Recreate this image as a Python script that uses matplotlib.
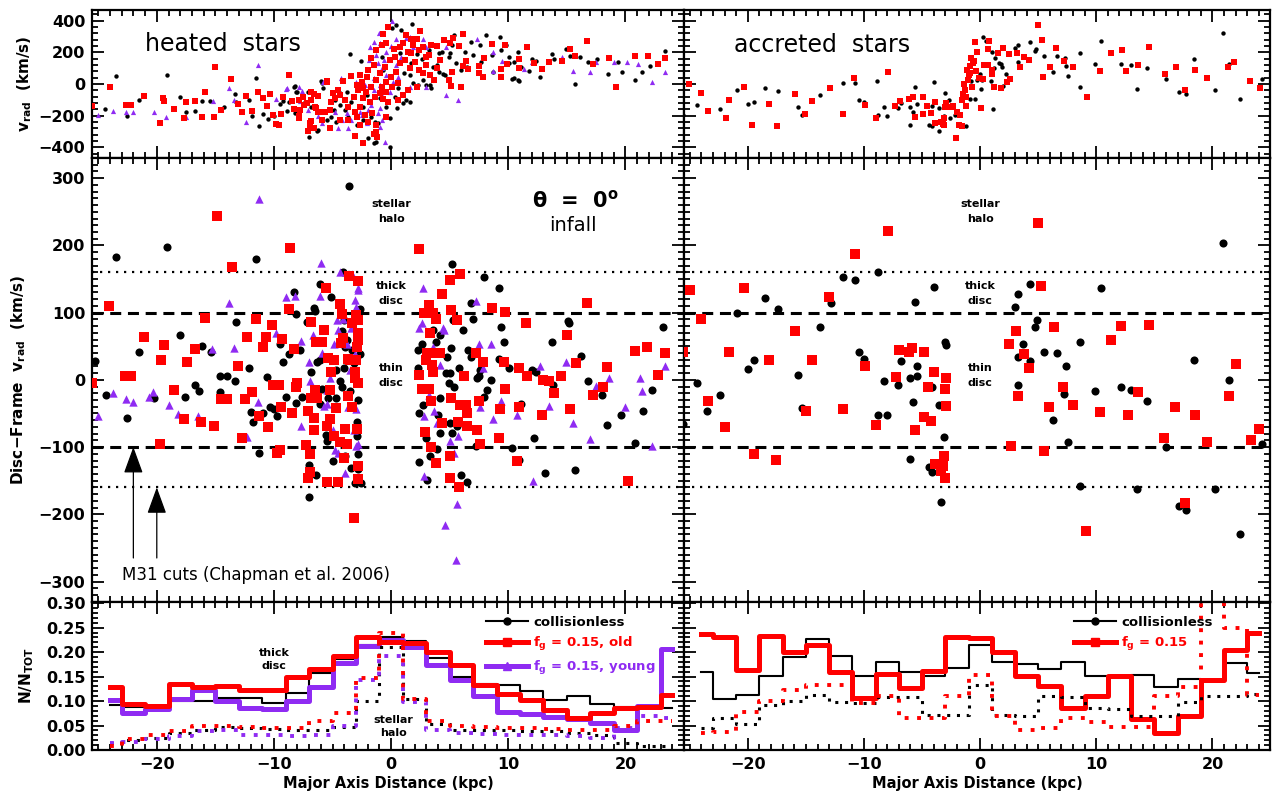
import matplotlib
matplotlib.use('Agg')
import matplotlib.pyplot as plt
from matplotlib.ticker import MultipleLocator, FormatStrFormatter
from matplotlib.lines import Line2D
import numpy as np

plt.rcParams['font.family'] = 'DejaVu Sans'
plt.rcParams['font.weight'] = 'bold'
plt.rcParams['axes.labelweight'] = 'bold'
plt.rcParams['mathtext.default'] = 'regular'

RED = '#ff0000'
PURPLE = '#8f2bf2'

# ---------------- top panels: v_rad vs major axis distance (kpc, km/s)
heated_top_coll = [
    (-24.4, -158), (-23.5, 53), (-22.5, -200), (-21.5, -101), (-19.1, 59), (-18.0, -84), (-17.5, -179),
    (-16.7, -168), (-16.1, -105), (-15.5, -105), (-14.3, -147), (-13.3, -63), (-13.2, -116), (-12.1, -101),
    (-11.9, -200), (-11.5, 38), (-11.3, -263), (-10.9, -189), (-10.5, -221), (-10.0, -200), (-9.5, -126),
    (-9.2, -105), (-8.9, -168), (-8.3, -17), (-8.0, -53), (-7.1, -53), (-7.0, -337), (-6.8, -147),
    (-6.3, -295), (-6.0, 21),
    (-8.2, -12), (-8.1, -48), (-8.7, -111), (-8.2, -185), (-6.2, -290), (-5.9, 5), (-5.8, -27),
    (-5.5, -227), (-4.8, -101), (-4.4, -59), (-4.4, -132), (-3.95, -164), (-3.8, -48), (-3.7, -206),
    (-3.5, 190), (-3.4, -111), (-3.2, -174), (-2.9, -258), (-2.6, 146), (-2.4, -143), (-2.05, -69),
    (-1.96, -343), (-1.7, -206), (-1.5, -374), (-1.25, -364), (-1.1, -248), (-0.97, -90), (-0.82, 173),
    (-0.68, 89), (-0.1, -399), (0.1, 352), (0.45, 373), (0.5, -153), (0.74, 194), (0.88, 341),
    (1.0, -122), (1.3, -101), (1.6, -111), (1.76, 379), (1.9, 5), (2.2, 190), (2.6, 156), (2.7, 26),
    (3.0, -6), (3.2, 215), (3.6, 105), (3.9, 120), (4.1, 78), (4.3, 204), (4.4, 63), (4.6, 57),
    (4.9, 173), (5.0, 194), (5.2, 247), (5.4, 310), (5.5, 131), (6.0, 89), (6.3, 204), (6.5, 110),
    (6.8, 268), (7.0, 183), (7.6, 247), (7.7, 141), (8.1, 310), (8.6, 183), (8.7, 78), (9.3, 295),
    (9.4, 215), (9.8, 247), (10.1, 135), (10.5, 36), (10.8, 26), (10.8, 204), (4.1, 194), (3.3, -6),
    (3.4, -27), (1.6, 57), (1.7, 131), (2.3, -6), (1.1, 68), (0.6, -27), (0.3, -80), (-0.4, -143),
    (-0.1, -216), (-1.4, -237), (-2.4, -227), (-4.7, -237), (-5.1, -206), (-4.9, -164), (-6.6, -143),
    (-7.4, -122),
    (10.1, 168), (10.5, 137), (10.3, 32), (10.9, 21), (11.1, 105), (11.8, 84), (12.0, 158), (12.4, 147),
    (12.7, 42), (13.7, 189), (13.9, 158), (14.9, 221), (15.3, 179), (15.7, 0), (16.1, 173), (16.8, 137),
    (17.6, 158), (18.5, 63), (19.4, 141), (19.7, 74), (20.8, 25), (21.4, 74), (22.1, 116), (23.4, 210),
]
heated_top_old = [
    (-25.5, -137), (-24.0, -17), (-22.6, -131), (-22.2, -131), (-21.1, -74), (-19.7, -246), (-19.5, -91),
    (-19.4, -105), (-18.5, -158), (-17.7, -215), (-17.5, -116), (-16.7, -105), (-16.1, -211), (-15.9, -48),
    (-15.1, -211), (-15.0, 109), (-14.5, -164), (-13.7, 32), (-13.1, -126), (-12.7, -175), (-12.4, -74),
    (-11.9, -168), (-11.4, -48), (-10.9, -91), (-10.6, -137), (-10.3, -63), (-10.1, -196), (-9.8, -253),
    (-9.6, -257), (-9.4, -189), (-9.2, -84), (-8.7, 59), (-8.5, -105), (-8.3, -158), (-7.9, -200),
    (-7.9, -101), (-7.4, -131), (-7.1, -295), (-6.9, -274), (-6.8, -232), (-6.6, -63), (-6.4, -152),
    (-6.1, -179), (-5.9, -227), (-5.5, 15),
    (-5.5, 20), (-3.4, 51), (-2.7, 57), (-0.25, 358), (-0.7, 316), (2.5, 335), (2.2, 282), (-0.45, 257),
    (0.25, 219), (1.0, 257), (1.45, 204), (1.9, 247), (2.7, 236), (3.4, 247), (3.9, 240), (4.5, 278),
    (5.0, 257), (5.3, 293), (6.1, 316), (5.8, 240), (3.2, 183), (4.15, 152), (3.9, 99), (3.0, 120),
    (3.3, 57), (3.7, 26), (2.2, -22), (1.45, -37), (5.2, 78), (4.9, 26), (5.1, -12), (6.0, -20),
    (6.1, 114), (6.6, 95), (6.4, 147), (7.5, 114), (7.5, 68), (7.8, 43), (7.9, 166), (8.6, 250),
    (9.4, 93), (9.4, 47), (9.7, 247), (9.9, 125), (10.9, 156), (10.9, 99), (-1.25, 215), (-1.7, 162),
    (-2.05, 47), (-2.5, 15), (-2.95, -6), (-2.8, -37), (-3.2, -80), (-2.15, -48), (-1.7, -16),
    (-1.25, 26), (-0.97, 68), (-0.54, 110), (-0.1, 152), (0.3, 173), (0.74, 131), (1.2, 152),
    (1.65, 99), (2.0, 141), (0.45, 78), (0.03, 47), (-0.4, 15), (-0.8, -20), (0.1, -16), (0.6, 5),
    (1.0, -69), (0.6, -101), (-0.25, -111), (-0.97, -59), (-1.4, -80), (-1.8, -111), (-2.4, -90),
    (-2.7, -143), (-3.1, -174), (-3.7, -143), (-3.95, -101), (-4.4, -69), (-4.8, -90), (-5.1, -111),
    (-5.2, -164), (-5.65, -174), (-6.2, -174), (-6.5, -143), (-6.8, -101), (-7.2, -122), (-6.9, -248),
    (-6.95, -280), (-7.8, -164), (-7.9, -216), (-6.6, -280), (-5.2, -280), (-4.4, -227), (-3.7, -227),
    (-2.95, -206), (-2.2, -195), (-1.96, -237), (-2.4, -374), (-2.7, -258), (-1.25, -301), (-1.5, -316),
    (-1.2, -332), (-1.25, -258), (-0.4, -206), (-1.6, -185), (-3.1, -328), (-4.1, 20), (-4.5, -37),
    (-5.0, -55), (-6.8, -48), (-6.2, -75), (-7.5, -80), (-0.68, -97), (-0.4, -48), (-2.4, -27),
    (-1.96, 89), (-1.5, 120), (-0.82, 246), (1.3, 310), (1.7, 282), (2.4, 215), (3.0, 173), (2.7, 68),
    (2.4, 89), (1.7, 194), (0.74, 232),
    (11.6, 232), (12.2, 130), (12.9, 95), (13.5, 137), (14.6, 147), (15.7, 179), (15.3, 221),
    (16.7, 274), (17.2, 126), (18.6, 164), (19.2, -17), (20.8, 179), (21.9, 179), (22.8, 126),
    (23.4, 164),
]
heated_top_young = [
    (-25.0, -196), (-23.7, -168), (-22.6, -179), (-22.0, -179), (-20.2, -179), (-19.2, -206),
    (-17.5, -211), (-15.2, -105), (-13.8, -25), (-13.4, -101), (-12.4, -242), (-11.4, 122), (-9.8, -95),
    (-9.0, -32), (-7.8, -105), (-7.6, -42), (-6.8, -95), (-5.9, -248),
    (-8.9, -27), (-7.9, -20), (-5.8, 15), (-4.3, 36), (-3.0, 15), (-2.2, -6), (-1.8, 236), (-1.0, 325),
    (-0.97, 257), (-1.25, 183), (-1.1, 131), (-0.8, 99), (-0.6, 152), (-0.4, 204), (0.06, 398),
    (0.4, 284), (1.25, 288), (1.65, 299), (1.9, 236), (2.7, 282), (3.0, 236), (4.7, 236), (7.3, 282),
    (8.7, 204), (8.7, 84), (4.7, -69), (5.7, -101), (3.0, -16), (1.6, -16), (-1.5, -37), (-1.7, -132),
    (-0.97, -153), (-1.1, -185), (-0.8, -227), (-0.97, -269), (-0.54, -364), (-2.1, -248), (-2.5, -195),
    (-2.7, -174), (-1.8, -111), (-1.96, -164), (-3.4, -227), (-3.8, -185), (-4.2, -227), (-4.8, -174),
    (-4.5, -280), (-3.7, -280), (-6.2, -202), (-7.1, -164), (-0.68, -80), (-0.1, -48), (-0.97, -6),
    (0.17, 15), (0.6, 47), (-0.4, 57), (-1.5, 36), (0.45, 120), (0.88, 173), (0.03, 240), (-1.5, 267),
    (-1.9, 152),
    (9.5, 147), (11.3, 95), (12.0, 137), (14.6, 168), (15.5, 84), (17.0, 74), (17.5, 137), (19.0, 137),
    (20.1, 137), (21.1, 126), (22.3, 11), (23.4, 74),
]
accreted_top_coll = [
    (-25.6, -193), (-24.4, -132), (-22.4, -156), (-20.9, -41), (-20.0, -126), (-19.5, -112), (-18.5, -24),
    (-17.4, -45), (-15.7, -146), (-15.3, -193), (-13.8, -71), (-11.8, 8), (-10.8, 4), (-10.4, -102),
    (-10.0, -114), (-8.9, 16), (-8.8, -197), (-8.3, -148), (-8.0, -199), (-7.1, -152), (-6.8, -122),
    (-6.0, -260), (-6.0, -142), (-5.8, -179), (-5.6, -20), (-5.4, -126), (-4.4, -258), (-4.1, -264),
    (-4.0, 12), (-4.1, -138), (-3.5, -294), (-3.5, -152), (-3.1, -199), (-3.0, -57), (-2.7, -102),
    (-2.6, -217), (-2.2, -193), (-1.6, -91), (-1.2, -264), (-0.9, -97), (-0.4, -97), (-0.8, 20),
    (-0.26, 24), (0.0, 61), (0.07, -30), (0.2, 24), (0.26, 294), (0.5, 274), (0.9, 20), (1.05, 199),
    (1.1, -156), (1.2, 101), (1.3, 166), (1.6, 132), (1.8, 128), (1.9, 106), (2.2, 61), (2.0, -10),
    (2.4, 26), (3.0, 229), (3.3, 244), (3.3, 136), (3.7, 179), (4.3, 268), (4.7, 207), (4.8, 223),
    (5.5, 179), (6.3, 77), (6.6, 179), (7.3, 162), (7.4, 112), (7.6, 51), (8.6, 197), (8.6, -20),
    (9.9, 126), (10.4, 274), (12.1, 126), (13.0, 122), (13.5, -30), (14.4, 101), (16.0, 30),
    (17.1, -51), (17.7, -65), (18.4, 158), (20.2, -37), (20.9, 321), (21.4, 126), (22.4, -97),
    (24.3, 30),
]
accreted_top_gas = [
    (-25.1, 0), (-24.0, -55), (-23.4, -173), (-21.9, -213), (-21.6, -102), (-20.3, -16), (-19.6, -260),
    (-18.2, -128), (-17.5, -268), (-15.9, -65), (-15.1, -187), (-14.5, -108), (-12.9, -24), (-11.8, -187),
    (-10.9, 37), (-9.9, -132), (-9.0, -217), (-7.9, 75), (-7.3, -138), (-6.9, -106), (-6.1, -95),
    (-5.8, -85), (-5.6, -207), (-4.9, -85), (-4.9, -187), (-4.6, -138), (-4.2, -183), (-3.9, -112),
    (-3.9, -248), (-3.4, -240), (-3.2, -254), (-3.1, -217), (-3.1, -260), (-3.0, -142), (-2.9, -118),
    (-2.7, -146), (-2.5, -142), (-2.3, -138), (-2.1, -341), (-2.0, -177), (-1.8, -260), (-1.7, -193),
    (-1.6, -102), (-1.6, -268), (-1.5, -61), (-1.4, 0), (-1.3, -37), (-1.25, -85), (-1.2, -138),
    (-1.1, 91), (-1.05, 26), (-1.0, 57), (-0.9, 71), (-0.85, 112), (-0.75, 162), (-0.66, -16),
    (-0.6, 132), (-0.5, 146), (-0.43, 268), (-0.33, 85), (-0.26, 199), (-0.1, 41), (0.07, -152),
    (0.23, 30), (0.33, 118), (0.66, 223), (0.7, 122), (0.8, 274), (1.0, 61), (1.05, 91), (1.2, -16),
    (1.5, 193), (1.8, -24), (2.0, 227), (2.3, 14), (2.5, 187), (2.6, 30), (3.2, 197), (3.4, 106),
    (3.8, 173), (4.2, 152), (5.0, 371), (5.3, 280), (5.4, 45), (6.0, 106), (6.5, 227), (7.2, 142),
    (8.0, 106), (9.2, -85), (10.3, 85), (11.3, 197), (12.2, 213), (12.6, 85), (13.6, 122), (14.5, 233),
    (15.9, 61), (16.9, 106), (17.6, -41), (18.5, 91), (19.5, 41), (21.3, 106), (21.9, 136), (23.2, 20),
    (24.1, -24),
]

# ---------------- middle panels: disc-frame v_rad (km/s)
heated_mid_coll = [
    (-25.3, 28), (-24.3, -22), (-23.5, 182), (-22.5, -57), (-21.5, 41), (-20.2, -27), (-19.1, 198),
    (-18.0, 67), (-17.6, -26), (-16.7, -7), (-16.4, -17), (-16.1, 51), (-15.4, 42), (-14.6, 6),
    (-14.0, 6), (-14.6, -18), (-13.3, -1), (-13.2, 86), (-12.1, 17), (-12.0, -48), (-11.8, -63),
    (-11.5, 180), (-11.3, -109), (-10.9, -50), (-10.6, 4), (-10.3, -40), (-10.0, -44), (-9.7, -54),
    (-9.5, 54), (-9.2, 27), (-9.0, -25), (-8.7, 39), (-8.3, 131), (-8.1, 98), (-8.1, -35), (-7.8, 44),
    (-7.6, -25), (-7.2, 86), (-7.0, -174), (-7.0, -126), (-6.8, 11), (-6.6, 107), (-6.5, 102),
    (-6.4, -141), (-6.3, 26), (-6.1, 143), (-6.1, -36), (-6.1, 30), (-5.9, -14), (-5.6, -82),
    (-5.5, -91), (-5.4, -27), (-5.1, 123), (-5.0, -121), (-4.7, -27), (-4.7, 15), (-4.4, -1),
    (-4.2, 72), (-4.2, -10), (-4.0, 18), (-4.0, 89), (-3.9, -114), (-3.9, 49), (-3.8, 59), (-3.6, 289),
    (-3.5, -17), (-3.4, -131), (-3.3, 44), (-3.2, 25), (-3.1, -153), (-2.9, -84), (-2.9, -62),
    (-2.8, -110), (-2.8, -133), (-2.8, -3), (-2.8, -30), (-2.7, 39), (-2.7, 106), (-2.6, -153),
    (-4.1, 160),
    (2.3, 44), (2.3, 17), (2.4, -49), (2.4, -122), (2.6, 54), (2.7, -37), (3.0, -86), (3.1, -149),
    (3.3, -113), (3.6, 74), (3.8, 57), (3.9, -103), (4.0, -52), (4.2, -27), (4.2, -79), (4.2, 67),
    (4.7, 10), (4.8, 34), (4.9, -5), (5.0, -64), (5.0, 10), (5.1, 47), (5.2, -79), (5.2, 173),
    (5.3, 89), (5.4, -10), (5.6, -69), (5.8, 17), (6.0, -142), (6.1, 74), (6.5, -152), (6.6, 44),
    (6.8, 115), (6.8, 34), (7.0, 91), (7.2, -99), (7.3, 2), (7.5, 5), (7.6, 15), (7.9, 153),
    (7.9, -25), (8.2, -15), (8.5, 0), (9.2, 137), (9.2, 31), (9.4, 78), (9.6, 57), (10.1, 17),
    (11.1, -36), (10.3, -102), (10.9, -119), (12.0, 15), (12.2, -86), (12.4, 12), (13.7, 57),
    (13.1, -138), (13.8, -7), (15.1, 88), (15.2, 84), (15.7, -134), (16.2, 36), (16.8, -1), (18.0, -22),
    (18.4, -67), (19.6, -53), (20.8, -94), (21.5, -47), (22.3, -15), (23.2, 79),
]
heated_mid_old = [
    (-25.5, -5), (-24.1, 110), (-22.7, 5), (-22.2, 5), (-21.1, 64), (-19.7, -96), (-19.4, 52),
    (-19.6, 29), (-18.5, -15), (-17.7, -58), (-17.4, 26), (-16.7, 46), (-16.2, -62), (-15.9, 92),
    (-15.1, -69), (-14.9, 244), (-14.5, -29), (-14.0, -29), (-13.6, 168), (-13.1, 20), (-12.7, -86),
    (-12.5, -28), (-12.3, 64), (-11.9, -18), (-11.5, 90), (-11.3, -54), (-10.9, 49), (-10.7, 63),
    (-10.5, -70), (-10.2, 82), (-10.1, -7), (-9.7, -109), (-9.6, -7), (-9.5, -104), (-9.4, -40),
    (-9.3, 61), (-8.7, 106), (-8.6, 196), (-8.5, -49), (-8.3, 46), (-8.1, -10), (-8.0, -4), (-7.3, -97),
    (-7.1, -47), (-7.1, -146), (-6.9, -110), (-6.9, -137), (-6.8, -27), (-6.8, 86), (-6.6, -57),
    (-6.6, -74), (-6.5, -15), (-6.4, 56), (-6.3, -27), (-6.0, 57), (-5.9, 56), (-5.7, 74), (-5.6, 137),
    (-5.5, -69), (-5.5, -152), (-5.4, 32), (-5.2, -58), (-5.2, -15), (-5.1, 11), (-4.9, -83), (-4.9, 29),
    (-4.7, -42), (-4.5, -152), (-4.4, -92), (-4.4, 113), (-4.3, 55), (-4.2, 98), (-4.1, 62),
    (-4.0, -116), (-3.9, -73), (-3.8, -96), (-3.7, 31), (-3.7, -24), (-3.6, 154), (-3.5, 30), (-3.3, 84),
    (-3.3, -40), (-3.2, -205), (-3.1, 2), (-3.1, 12), (-3.0, 96), (-2.9, 49), (-2.9, -73), (-2.8, -128),
    (-2.8, -148), (-2.8, 147), (-2.8, 59), (-2.8, 70), (-2.8, 89), (-2.8, -5), (-3.0, 30),
    (2.4, 194), (2.4, 7), (2.6, -14), (2.8, 99), (2.9, -78), (3.0, 29), (3.1, 40), (3.2, -14), (3.2, 111),
    (3.3, 70), (3.3, 40), (3.4, -32), (3.4, -100), (3.5, 22), (3.6, 99), (3.6, 11), (3.8, 91),
    (3.8, -123), (4.2, 40), (4.3, 128), (4.3, -64), (5.0, 148), (5.1, 104), (5.1, -27), (5.0, -146),
    (5.0, -114), (5.6, 89), (5.7, -63), (5.8, -160), (5.9, -37), (5.9, 157), (6.2, 5), (6.4, -38),
    (6.5, -49), (6.5, -69), (7.2, 40), (7.3, -74), (7.5, -32), (7.6, -96), (7.8, 27), (8.6, 107),
    (9.2, -86), (9.3, -44), (9.6, 26), (9.7, 101), (9.7, -13), (10.7, -121), (10.9, 17), (10.9, -41),
    (11.5, 85), (11.6, 5), (12.9, -52), (13.0, 0), (13.5, -2), (13.9, -20), (14.5, 6), (15.0, 67),
    (15.3, -43), (15.8, 25), (16.7, 114), (17.2, -22), (18.1, -10), (18.4, 19), (20.2, -151), (20.8, 43),
    (21.8, 49), (22.8, 7), (23.4, 40),
]
heated_mid_young = [
    (-25.0, -54), (-23.7, -20), (-22.6, -29), (-22.0, -33), (-20.7, -26), (-20.3, -18), (-19.0, -38),
    (-18.2, -51), (-16.5, -54), (-15.3, 46), (-13.8, 115), (-13.4, 47), (-12.3, -85), (-11.4, -33),
    (-11.3, 269), (-10.1, -7), (-9.8, 70), (-9.0, 123), (-8.2, 125), (-7.7, 58), (-7.7, -69), (-7.0, 26),
    (-6.9, -2), (-6.7, 66), (-6.1, 125), (-6.0, 174), (-5.9, 40), (-5.7, -39), (-5.5, -36), (-5.5, -15),
    (-5.2, 2), (-5.0, -74), (-4.9, 53), (-4.8, -105), (-4.6, 89), (-4.5, 74), (-4.5, -109), (-4.4, 160),
    (-4.1, 91), (-3.9, -138), (-3.8, 54), (-3.7, -40), (-3.5, 15), (-3.4, 77), (-3.3, 158), (-3.2, -74),
    (-3.1, 39), (-3.1, 119), (-3.0, -99), (-3.0, -44), (-2.8, 137), (-2.8, 133), (-3.0, 109),
    (-2.8, -96),
    (2.4, 77), (2.6, 84), (2.7, 137), (2.8, -54), (2.8, -143), (3.2, -22), (3.6, 49), (3.7, -47),
    (3.9, -64), (4.2, 22), (4.4, 77), (4.5, 74), (4.6, -216), (5.0, -91), (5.4, -109), (5.5, -268),
    (5.6, -185), (5.7, -84), (7.2, 117), (7.6, -40), (7.5, 54), (7.8, 17), (8.5, 54), (8.7, -58),
    (9.4, -32), (10.7, -52), (12.1, -151), (12.7, 20), (13.5, -39), (14.9, 27), (15.5, -64), (17.0, -88),
    (17.5, -9), (18.6, 2), (20.0, -40), (21.2, 3), (21.4, -17), (22.3, -99), (23.4, 21),
]
accreted_mid_coll = [
    (-25.6, -65), (-24.4, -4), (-23.5, -46), (-22.4, -23), (-20.9, 99), (-20.0, 16), (-19.5, 29),
    (-18.5, 121), (-17.4, 106), (-15.7, 7), (-15.3, -42), (-13.8, 78), (-12.8, 115), (-11.8, 153),
    (-10.8, 148), (-10.4, 41), (-10.0, 31), (-8.8, 161), (-8.8, -52), (-8.3, -1), (-8.0, -52), (-7.1, -7),
    (-6.8, 28), (-6.0, 2), (-6.0, -118), (-5.8, -33), (-5.6, 116), (-5.4, 20), (-5.4, 6), (-4.4, -130),
    (-4.1, -137), (-4.0, 138), (-4.1, -11), (-3.5, -38), (-3.4, -181), (-3.1, -85), (-3.0, 57),
    (-2.9, 52), (3.0, 109), (3.3, 127), (3.3, 34), (3.3, -8), (3.7, 54), (4.3, 28), (4.3, 142), (4.7, 79),
    (4.9, 89), (5.5, 42), (6.3, -59), (6.6, 40), (7.2, -21), (7.4, 21), (7.6, -92), (8.6, 57),
    (8.6, -158), (9.9, -16), (10.4, 137), (12.1, -11), (13.0, -15), (13.5, -163), (14.4, -31),
    (16.0, -100), (17.1, -187), (17.7, -193), (18.4, 29), (20.2, -163), (20.9, 203), (21.4, 0),
    (22.4, -229), (24.3, -95),
]
accreted_mid_gas = [
    (-25.6, 41), (-25.0, 133), (-24.0, 91), (-23.4, -32), (-22.0, -70), (-21.6, 42), (-20.3, 136),
    (-19.5, -110), (-18.2, 29), (-17.6, -119), (-15.9, 72), (-15.0, -47), (-14.5, 30), (-13.0, 123),
    (-11.8, -43), (-10.8, 187), (-9.9, 20), (-9.0, -67), (-7.9, 222), (-7.2, 4), (-7.0, 45), (-6.1, 42),
    (-5.9, 48), (-5.6, -75), (-4.8, 42), (-4.8, -55), (-4.5, -11), (-4.2, -61), (-4.0, 12), (-3.9, -125),
    (-3.4, -135), (-3.2, -128), (-3.1, -113), (-3.0, -13), (-3.0, -146), (-2.9, 2), (-2.9, -39),
    (2.5, 54), (2.7, -99), (3.1, 73), (3.3, -24), (3.8, 38), (4.2, 18), (5.0, 233), (5.2, 139),
    (5.5, -106), (5.9, -41), (6.4, 78), (7.1, -10), (8.0, -37), (9.1, -225), (10.3, -48), (11.3, 59),
    (12.1, 80), (12.7, -53), (13.6, -18), (14.5, 81), (15.8, -86), (16.8, -40), (17.6, -183),
    (18.5, -53), (19.5, -92), (21.4, -24), (22.0, 23), (23.3, -89), (24.0, -73),
]

# ---------------- bottom panels: N/N_TOT histograms (2 kpc bins)
bin_centres = [-24, -22, -20, -18, -16, -14, -12, -10, -8, -6, -4, -2, 0,
               2, 4, 6, 8, 10, 12, 14, 16, 18, 20, 22, 24]
heated_disc_coll = [0.091, 0.088, 0.088, 0.100, 0.100, 0.106, 0.106, 0.097, 0.117, 0.158, 0.186, 0.215, 0.231,
                    0.222, 0.188, 0.150, 0.135, 0.133, 0.120, 0.102, 0.111, 0.093, 0.088, 0.088, 0.085]
heated_disc_old = [0.128, 0.093, 0.090, 0.134, 0.128, 0.130, 0.122, 0.122, 0.150, 0.165, 0.193, 0.231, 0.220,
                   0.218, 0.200, 0.173, 0.132, 0.115, 0.103, 0.081, 0.066, 0.075, 0.086, 0.087, 0.112]
heated_disc_young = [0.103, 0.075, 0.083, 0.104, 0.122, 0.100, 0.085, 0.083, 0.100, 0.128, 0.177, 0.213, 0.225,
                     0.210, 0.174, 0.143, 0.110, 0.078, 0.073, 0.068, 0.063, 0.055, 0.040, 0.090, 0.207]
heated_halo_coll = [0.015, 0.020, 0.025, 0.035, 0.040, 0.047, 0.045, 0.042, 0.040, 0.040, 0.048, 0.100, 0.210,
                    0.105, 0.053, 0.040, 0.040, 0.040, 0.038, 0.038, 0.035, 0.030, 0.015, 0.008, 0.008]
heated_halo_old = [0.008, 0.022, 0.030, 0.038, 0.050, 0.050, 0.046, 0.044, 0.045, 0.060, 0.075, 0.147, 0.238,
                   0.105, 0.060, 0.050, 0.048, 0.045, 0.045, 0.042, 0.040, 0.040, 0.050, 0.060, 0.060]
heated_halo_young = [0.015, 0.017, 0.022, 0.028, 0.038, 0.040, 0.030, 0.030, 0.028, 0.030, 0.050, 0.143, 0.192,
                     0.098, 0.040, 0.035, 0.032, 0.030, 0.030, 0.030, 0.028, 0.025, 0.045, 0.070, 0.065]
accreted_disc_coll = [0.159, 0.105, 0.113, 0.152, 0.191, 0.227, 0.192, 0.151, 0.180, 0.159, 0.152, 0.168, 0.215,
                      0.180, 0.175, 0.166, 0.180, 0.152, 0.152, 0.153, 0.129, 0.145, 0.142, 0.178, 0.158]
accreted_disc_gas = [0.236, 0.231, 0.163, 0.233, 0.200, 0.215, 0.159, 0.107, 0.156, 0.127, 0.161, 0.231, 0.229,
                     0.201, 0.152, 0.130, 0.086, 0.111, 0.152, 0.063, 0.035, 0.069, 0.143, 0.204, 0.238]
accreted_halo_coll = [0.044, 0.065, 0.054, 0.091, 0.101, 0.112, 0.098, 0.095, 0.108, 0.108, 0.071, 0.071, 0.132,
                      0.071, 0.069, 0.110, 0.108, 0.086, 0.084, 0.069, 0.070, 0.099, 0.111, 0.111, 0.114]
accreted_halo_gas = [0.035, 0.037, 0.078, 0.101, 0.122, 0.132, 0.132, 0.095, 0.110, 0.065, 0.066, 0.110, 0.154,
                     0.069, 0.040, 0.045, 0.066, 0.057, 0.048, 0.048, 0.110, 0.129, 0.400, 0.250, 0.113]

disc_cuts = [100, -100]
halo_cuts = [160, -160]


def style(ax, ymaj, ymin, ylim, xlab, ylab):
    ax.set_xlim(-25.5, 25)
    ax.set_ylim(*ylim)
    ax.xaxis.set_major_locator(MultipleLocator(10))
    ax.xaxis.set_minor_locator(MultipleLocator(1))
    ax.yaxis.set_major_locator(MultipleLocator(ymaj))
    ax.yaxis.set_minor_locator(MultipleLocator(ymin))
    ax.tick_params(which='both', direction='in', top=True, right=True, width=1.3, colors='black')
    ax.tick_params(which='major', length=8.5)
    ax.tick_params(which='minor', length=4.5)
    ax.tick_params(labelbottom=xlab, labelleft=ylab, labelsize=11.5, pad=5)
    for s in ax.spines.values():
        s.set_linewidth(1.6)


def scatter(ax, pts, marker, color, size):
    a = np.array(pts)
    ax.scatter(a[:, 0], a[:, 1], marker=marker, c=color, s=size, linewidths=0, zorder=3)


fig = plt.figure(figsize=(12.72, 8), dpi=100)
xl, wl = 0.0726, 0.4652
xr, wr = 0.5377, 0.4611
rows = [(0.8025, 0.185), (0.2479, 0.5546), (0.0625, 0.1854)]

ax_tl = fig.add_axes([xl, rows[0][0], wl, rows[0][1]])
ax_tr = fig.add_axes([xr, rows[0][0], wr, rows[0][1]])
ax_ml = fig.add_axes([xl, rows[1][0], wl, rows[1][1]])
ax_mr = fig.add_axes([xr, rows[1][0], wr, rows[1][1]])
ax_bl = fig.add_axes([xl, rows[2][0], wl, rows[2][1]])
ax_br = fig.add_axes([xr, rows[2][0], wr, rows[2][1]])

for ax, lab in [(ax_tl, True), (ax_tr, False)]:
    style(ax, 200, 40, (-467, 467), False, lab)
for ax, lab in [(ax_ml, True), (ax_mr, False)]:
    style(ax, 100, 10, (-330, 330), False, lab)
for ax, lab in [(ax_bl, True), (ax_br, False)]:
    style(ax, 0.05, 0.01, (0, 0.303), True, lab)
ax_bl.yaxis.set_major_formatter(FormatStrFormatter('%.2f'))

# top row
scatter(ax_tl, heated_top_coll, 'o', 'black', 10)
scatter(ax_tl, heated_top_young, '^', PURPLE, 14)
scatter(ax_tl, heated_top_old, 's', RED, 20)
scatter(ax_tr, accreted_top_coll, 'o', 'black', 10)
scatter(ax_tr, accreted_top_gas, 's', RED, 20)
ax_tl.text(-21, 250, 'heated  stars', fontsize=17, fontweight='normal', va='center')
ax_tr.text(-21.2, 244, 'accreted  stars', fontsize=17, fontweight='normal', va='center')
ax_tl.set_ylabel(r'v$_{rad}$  (km/s)', fontsize=11)
ax_tl.yaxis.set_label_coords(-0.098, 0.5)

# middle row
for ax in (ax_ml, ax_mr):
    for c in disc_cuts:
        ax.axhline(c, color='black', lw=2.2, dashes=(3.6, 2.2), zorder=2)
    for c in halo_cuts:
        ax.axhline(c, color='black', lw=1.6, dashes=(1.0, 2.6), zorder=2)
    ax.text(0, 251, 'stellar\nhalo', ha='center', va='center', fontsize=8, linespacing=1.6)
    ax.text(0, 128, 'thick\ndisc', ha='center', va='center', fontsize=8, linespacing=1.6)
    ax.text(0, 7, 'thin\ndisc', ha='center', va='center', fontsize=8, linespacing=1.6)
scatter(ax_ml, heated_mid_coll, 'o', 'black', 34)
scatter(ax_ml, heated_mid_young, '^', PURPLE, 36)
scatter(ax_ml, heated_mid_old, 's', RED, 42)
scatter(ax_mr, accreted_mid_coll, 'o', 'black', 34)
scatter(ax_mr, accreted_mid_gas, 's', RED, 42)
ax_ml.text(15.7, 267, r'$\theta$  =  0$^o$', ha='center', va='center', fontsize=15)
ax_ml.text(15.5, 230, 'infall', ha='center', va='center', fontsize=14, fontweight='normal')
for xa, tip in [(-22.0, disc_cuts[1]), (-20.0, halo_cuts[1])]:
    ax_ml.annotate('', xy=(xa, tip), xytext=(xa, -265),
                   arrowprops=dict(arrowstyle='-|>,head_length=1.1,head_width=0.4', color='black',
                                   lw=0.9, shrinkA=0, shrinkB=0, mutation_scale=15))
ax_ml.text(-23, -291, 'M31 cuts (Chapman et al. 2006)', fontsize=12, fontweight='normal', va='center')
ax_ml.set_ylabel(r'Disc$-$Frame  v$_{rad}$  (km/s)', fontsize=11)
ax_ml.yaxis.set_label_coords(-0.108, 0.5)

# bottom row
dot = (1.0, 2.2)
ax_bl.step(bin_centres, heated_disc_coll, where='mid', color='black', lw=1.5)
ax_bl.step(bin_centres, heated_disc_young, where='mid', color=PURPLE, lw=3.6)
ax_bl.step(bin_centres, heated_disc_old, where='mid', color=RED, lw=3.6)
ax_bl.step(bin_centres, heated_halo_coll, where='mid', color='black', lw=2.2, dashes=dot)
ax_bl.step(bin_centres, heated_halo_young, where='mid', color=PURPLE, lw=2.8, dashes=dot)
ax_bl.step(bin_centres, heated_halo_old, where='mid', color=RED, lw=2.8, dashes=dot)
ax_br.step(bin_centres, accreted_disc_coll, where='mid', color='black', lw=1.5)
ax_br.step(bin_centres, accreted_disc_gas, where='mid', color=RED, lw=3.6)
ax_br.step(bin_centres, accreted_halo_coll, where='mid', color='black', lw=2.2, dashes=dot)
ax_br.step(bin_centres, accreted_halo_gas, where='mid', color=RED, lw=2.8, dashes=dot)

ax_bl.text(-10, 0.185, 'thick\ndisc', ha='center', va='center', fontsize=8, linespacing=1.4)
ax_bl.text(0.2, 0.048, 'stellar\nhalo', ha='center', va='center', fontsize=8, linespacing=1.4)
ax_bl.set_ylabel(r'N/N$_{TOT}$', fontsize=11)
ax_bl.yaxis.set_label_coords(-0.095, 0.5)
for ax in (ax_bl, ax_br):
    ax.set_xlabel('Major Axis Distance (kpc)', fontsize=10.5, labelpad=3)

handles_l = [Line2D([], [], color='black', lw=1.5, marker='o', ms=5),
             Line2D([], [], color=RED, lw=3.6, marker='s', ms=6),
             Line2D([], [], color=PURPLE, lw=3.6, marker='^', ms=6)]
labels_l = ['collisionless', r'f$_g$ = 0.15, old', r'f$_g$ = 0.15, young']
leg = ax_bl.legend(handles_l, labels_l, loc='upper left', bbox_to_anchor=(0.665, 0.905), frameon=False,
                   handlelength=3.2, handletextpad=0.4, labelspacing=0.45, borderpad=0, borderaxespad=0,
                   fontsize=9.5, numpoints=1)
for t, c in zip(leg.get_texts(), ['black', RED, PURPLE]):
    t.set_color(c)
leg = ax_br.legend(handles_l[:2], ['collisionless', r'f$_g$ = 0.15'], loc='upper left',
                   bbox_to_anchor=(0.665, 0.905), frameon=False, handlelength=3.2, handletextpad=0.4,
                   labelspacing=0.45, borderpad=0, borderaxespad=0, fontsize=9.5, numpoints=1)
for t, c in zip(leg.get_texts(), ['black', RED]):
    t.set_color(c)

fig.savefig('out.png', dpi=100)
